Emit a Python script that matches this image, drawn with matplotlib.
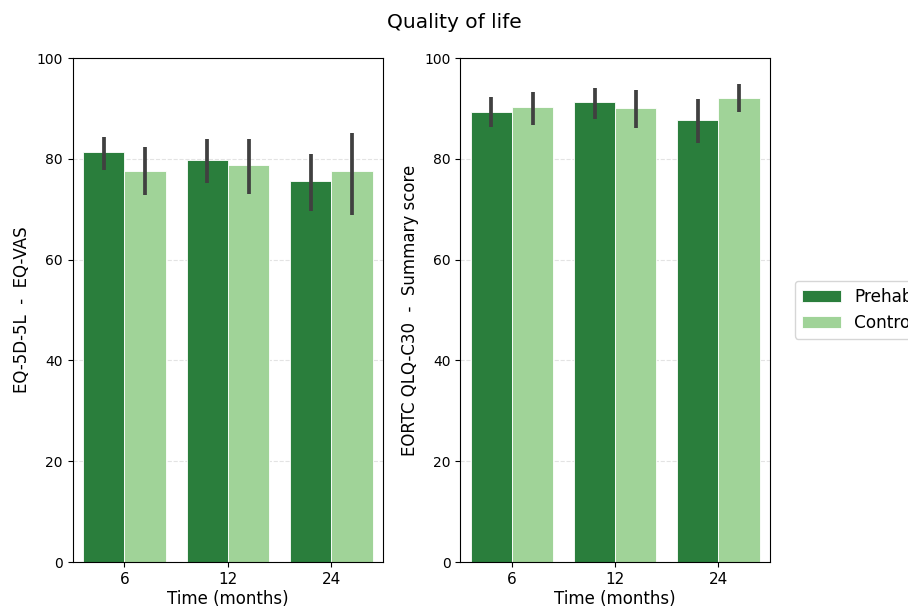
import numpy as np
import matplotlib
matplotlib.use('Agg')
from matplotlib import pyplot as plt

months = ['6', '12', '24']
groups = ['Prehabilitation', 'Control']
colors = ['#2a7e3c', '#a0d398']

# EQ-5D-5L EQ-VAS
eq_prehab = [81.3, 79.8, 75.7]
eq_prehab_lo = [77.8, 75.3, 69.7]
eq_prehab_hi = [84.4, 83.9, 81.0]
eq_control = [77.6, 78.7, 77.6]
eq_control_lo = [72.8, 73.1, 68.8]
eq_control_hi = [82.3, 84.0, 85.1]

# EORTC QLQ-C30 summary score
qlq_prehab = [89.2, 91.3, 87.8]
qlq_prehab_lo = [86.4, 87.9, 83.1]
qlq_prehab_hi = [92.2, 94.0, 91.9]
qlq_control = [90.3, 90.1, 92.1]
qlq_control_lo = [86.8, 86.2, 89.2]
qlq_control_hi = [93.2, 93.7, 94.9]

panels = [
    ('EQ-5D-5L  -  EQ-VAS',
     [(eq_prehab, eq_prehab_lo, eq_prehab_hi), (eq_control, eq_control_lo, eq_control_hi)]),
    ('EORTC QLQ-C30  -  Summary score',
     [(qlq_prehab, qlq_prehab_lo, qlq_prehab_hi), (qlq_control, qlq_control_lo, qlq_control_hi)]),
]

fig = plt.figure(figsize=(9.08, 6.11), dpi=100)
axes = [fig.add_axes([0.080, 0.080, 0.342, 0.825]),
        fig.add_axes([0.507, 0.080, 0.341, 0.825])]

x = np.arange(len(months))
w = 0.4
handles = []
for ax, (ylabel, series) in zip(axes, panels):
    for i, (vals, lo, hi) in enumerate(series):
        vals = np.array(vals)
        err = [vals - np.array(lo), np.array(hi) - vals]
        b = ax.bar(x + (i - 0.5) * w, vals, w, color=colors[i], edgecolor='white',
                   linewidth=0.6, label=groups[i], zorder=2)
        ax.errorbar(x + (i - 0.5) * w, vals, yerr=err, fmt='none', ecolor='#404040',
                    elinewidth=2.7, capsize=0, zorder=3)
        if ax is axes[0]:
            handles.append(b)
    ax.set_ylim(0, 100)
    ax.set_xlim(-0.5, 2.5)
    ax.set_xticks(x)
    ax.set_xticklabels(months, fontsize=11)
    ax.set_yticks([0, 20, 40, 60, 80, 100])
    ax.tick_params(axis='y', labelsize=10)
    ax.yaxis.grid(True, linestyle='--', color='#e3e3e3', linewidth=0.8, zorder=0)
    ax.set_axisbelow(True)
    ax.set_xlabel('Time (months)', fontsize=12, labelpad=2)
    ax.set_ylabel(ylabel, fontsize=12)

fig.suptitle('Quality of life', fontsize=14.5, y=0.978)
fig.legend(handles, groups, loc='center left', bbox_to_anchor=(0.866, 0.493),
           fontsize=12.2, handlelength=2.3)
fig.savefig('out.png', dpi=100)
